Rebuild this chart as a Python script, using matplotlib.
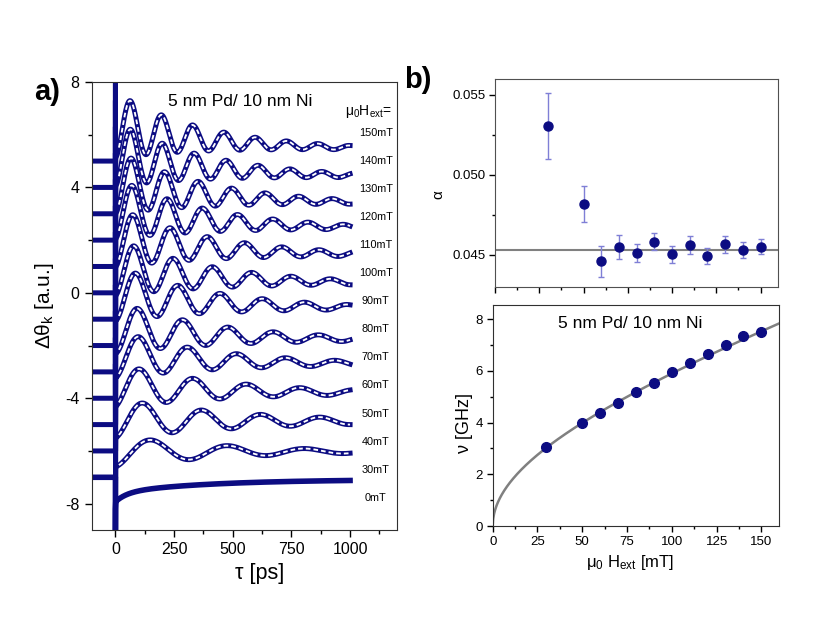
import numpy as np
import matplotlib
matplotlib.use("Agg")
import matplotlib.pyplot as plt
from matplotlib.ticker import MultipleLocator, FormatStrFormatter

plt.rcParams['font.family'] = ['Liberation Sans', 'DejaVu Sans']
plt.rcParams['mathtext.fontset'] = 'custom'
plt.rcParams['mathtext.rm'] = 'Liberation Sans'
plt.rcParams['mathtext.it'] = 'Liberation Sans:italic'
plt.rcParams['axes.unicode_minus'] = False

########## panel b values
field_b = [30, 50, 60, 70, 80, 90, 100, 110, 120, 130, 140, 150]
alpha = [0.05307, 0.04818, 0.04458, 0.04546, 0.04513, 0.04582,
         0.04502, 0.04561, 0.04492, 0.04565, 0.04529, 0.04550]
alpha_err = [0.00205, 0.00115, 0.00097, 0.00075, 0.00057, 0.00055,
             0.00053, 0.00055, 0.00049, 0.00053, 0.00052, 0.00048]
alpha_mean = 0.04529
nu = [3.04, 3.97, 4.38, 4.77, 5.17, 5.54, 5.96, 6.30, 6.65, 7.01, 7.36, 7.50]
kittel_gamma = 0.0245   # GHz/mT
kittel_ms = 480.0       # mT

########## panel a: fit parameters of each trace, top (150 mT) to bottom (30 mT)
trace_base = [5, 4, 3, 2, 1, 0, -1, -2, -3, -4, -5, -6]
trace_freq = [7.50, 7.35, 7.00, 6.66, 6.30, 5.97, 5.55, 5.18, 4.78, 4.38, 3.97, 3.05]  # GHz
trace_off = [0.41, 0.36, 0.36, 0.41, 0.40, 0.33, 0.39, 0.20, 0.28, 0.19, 0.11, -0.02]
trace_bg = [0.95, 0.92, 0.85, 0.80, 0.72, 0.65, 0.60, 0.50, 0.40, 0.30, 0.12, 0.0]
trace_amp = [1.26, 1.25, 1.22, 1.18, 1.15, 1.10, 1.06, 1.00, 0.92, 0.85, 0.76, 0.60]
trace_tau = [360, 370, 380, 390, 400, 410, 420, 430, 440, 470, 550, 480]   # ps
trace_phase = [-1.45, -1.45, -1.45, -1.45, -1.45, -1.45, -1.50, -1.55, -1.45, -1.30, -1.37, -1.38]
bg_time = 450.0  # ps

# 0 mT trace: only the slow recovery
zero_base = -7
zero_end = -7.08
zero_fast = 0.35
zero_fast_time = 50.0
zero_slow = 0.5
zero_slow_time = 400.0

field_labels = ['150mT', '140mT', '130mT', '120mT', '110mT', '100mT', '90mT',
                '80mT', '70mT', '60mT', '50mT', '40mT', '30mT', '0mT']

navy = '#0c0c82'
err_col = '#7f7fd6'
grey = '#808080'


def trace(t, i):
    f = trace_freq[i] * 1e-3   # 1/ps
    return (trace_base[i] + trace_off[i] + trace_bg[i] * np.exp(-t / bg_time)
            + trace_amp[i] * np.exp(-t / trace_tau[i]) * np.sin(2 * np.pi * f * t + trace_phase[i]))


fig = plt.figure(figsize=(8.3, 6.29), dpi=100)

################### a)
ax = fig.add_axes([0.1108, 0.1574, 0.3675, 0.7122])
t_pre = np.linspace(-100, 0, 50)
t_dat = np.linspace(1.5, 1000, 1500)
t_fit = np.linspace(15, 1000, 1500)

for i in range(len(trace_base)):
    b = trace_base[i]
    x = np.concatenate([t_pre, [0.0, 0.5], t_dat])
    y = np.concatenate([np.full_like(t_pre, b), [b + 3.3, b - 2.0], trace(t_dat, i)])
    ax.plot(x, y, color=navy, lw=3.6, solid_joinstyle='round', zorder=2)
    ax.plot(t_fit, trace(t_fit, i), color='white', lw=1.35, linestyle=(0, (2.5, 1.6)), zorder=3)

x0 = np.concatenate([t_pre, [0.0, 0.5], t_dat])
y0 = np.concatenate([np.full_like(t_pre, zero_base), [zero_base - 2.4, zero_base - 1.2],
                     zero_end - zero_fast * np.exp(-t_dat / zero_fast_time)
                     - zero_slow * np.exp(-t_dat / zero_slow_time)])
ax.plot(x0, y0, color=navy, lw=4.0, solid_joinstyle='round', zorder=2)

ax.set_xlim(-100, 1200)
ax.set_ylim(-9, 8)
ax.xaxis.set_minor_locator(MultipleLocator(125))
ax.yaxis.set_major_locator(MultipleLocator(4))
ax.yaxis.set_minor_locator(MultipleLocator(2))
ax.set_xticks([0, 250, 500, 750, 1000])
ax.tick_params(which='major', direction='out', length=5, width=1, labelsize=11.5, pad=4)
ax.tick_params(which='minor', direction='out', length=3, width=1)
for s in ax.spines.values():
    s.set_color('#303030')
ax.text(531, 7.25, '5 nm Pd/ 10 nm Ni', fontsize=12.5, ha='center', va='center')
ax.text(1077, 6.87, 'μ$_0$H$_\\mathrm{ext}$=', fontsize=10, ha='center', va='center')
for k, lab in enumerate(field_labels):
    ax.text(1110, 6.07 - 1.065 * k, lab, fontsize=7.8, ha='center', va='center')
ax.text(0.551, -0.096, 'τ [ps]', transform=ax.transAxes, fontsize=15.5, ha='center', va='center')
ax.text(-0.154, 0.5, 'Δθ$_\\mathrm{k}$ [a.u.]', transform=ax.transAxes, fontsize=15,
        ha='center', va='center', rotation=90)

################### b) damping
ax2 = fig.add_axes([0.5964, 0.5442, 0.3413, 0.3302])
ax2.axhline(alpha_mean, color=grey, lw=1.5, zorder=1)
ax2.errorbar(field_b, alpha, yerr=alpha_err, fmt='o', color=navy, ms=6.5,
             ecolor=err_col, elinewidth=1, capsize=2.2, capthick=1, zorder=3)
ax2.set_xlim(0, 160)
ax2.set_ylim(0.043, 0.056)
ax2.xaxis.set_major_locator(MultipleLocator(25))
ax2.xaxis.set_minor_locator(MultipleLocator(12.5))
ax2.yaxis.set_major_locator(MultipleLocator(0.005))
ax2.yaxis.set_minor_locator(MultipleLocator(0.0025))
ax2.yaxis.set_major_formatter(FormatStrFormatter('%.3f'))
ax2.tick_params(axis='x', which='both', labelbottom=False)
ax2.tick_params(which='major', direction='out', length=4, width=1, labelsize=9.5, pad=3)
ax2.tick_params(which='minor', direction='out', length=2.5, width=1)
for s in ax2.spines.values():
    s.set_color('#505050')
ax2.text(-0.201, 0.441, 'α', transform=ax2.transAxes, fontsize=11,
         ha='center', va='center', rotation=90)

################### b) frequency
ax3 = fig.add_axes([0.5936, 0.1637, 0.3453, 0.3514])
h = np.linspace(0, 160, 600)
ax3.plot(h, kittel_gamma * np.sqrt(h * (h + kittel_ms)), color=grey, lw=1.8, zorder=1)
ax3.plot(field_b, nu, 'o', color=navy, ms=7, zorder=3)
ax3.set_xlim(0, 160)
ax3.set_ylim(0, 8.55)
ax3.xaxis.set_major_locator(MultipleLocator(25))
ax3.xaxis.set_minor_locator(MultipleLocator(12.5))
ax3.yaxis.set_major_locator(MultipleLocator(2))
ax3.yaxis.set_minor_locator(MultipleLocator(1))
ax3.tick_params(which='major', direction='out', length=4, width=1, labelsize=9.5, pad=3)
ax3.tick_params(which='minor', direction='out', length=2.5, width=1)
for s in ax3.spines.values():
    s.set_color('#303030')
ax3.text(76.7, 7.85, '5 nm Pd/ 10 nm Ni', fontsize=12.5, ha='center', va='center')
ax3.text(0.479, -0.163, 'μ$_0$ H$_\\mathrm{ext}$ [mT]', transform=ax3.transAxes, fontsize=12,
         ha='center', va='center')
ax3.text(-0.097, 0.466, 'ν [GHz]', transform=ax3.transAxes, fontsize=13,
         ha='center', va='center', rotation=90)

fig.text(0.0563, 0.854, 'a)', fontsize=21, fontweight='bold', ha='center', va='center')
fig.text(0.5036, 0.873, 'b)', fontsize=21, fontweight='bold', ha='center', va='center')

fig.savefig('out.png', dpi=100)
